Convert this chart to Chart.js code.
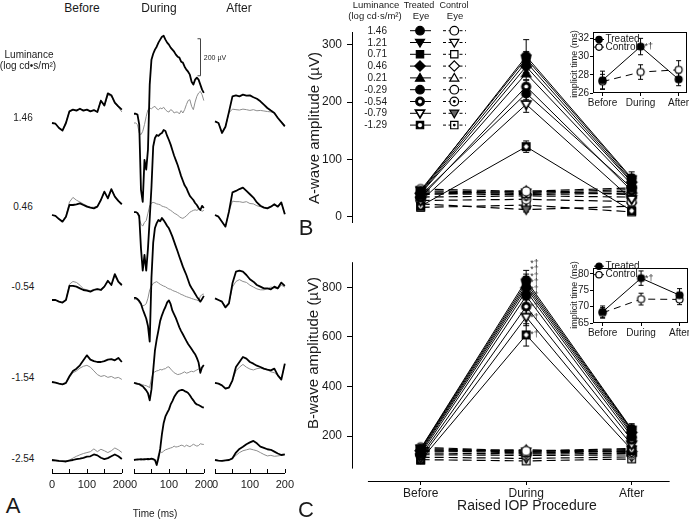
<!DOCTYPE html>
<html>
<head>
<meta charset="utf-8">
<title>ERG amplitude during raised IOP</title>
<script src="https://cdn.jsdelivr.net/npm/chart.js@4.4.1/dist/chart.umd.min.js"></script>
<style>
  html, body { margin: 0; padding: 0; background: #fff; }
  #fig { position: relative; width: 689px; height: 520px; overflow: hidden;
         font-family: 'Liberation Sans', Arial, sans-serif; color: #1a1a1a; }
  #fig canvas { position: absolute; }
  .t { position: absolute; white-space: nowrap; line-height: 1; transform: translate(-50%, -50%); }
  .r { transform: translate(-100%, -50%); }
  .v { transform: translate(-50%, -50%) rotate(-90deg); }
</style>
</head>
<body>
<div id="fig">
  <canvas id="a-before" width="98" height="475" style="left:38px;top:20px"></canvas>
  <canvas id="a-during" width="98" height="475" style="left:120px;top:20px"></canvas>
  <canvas id="a-after" width="98" height="475" style="left:201px;top:20px"></canvas>
  <canvas id="b-main" width="389" height="215" style="left:300px;top:20px"></canvas>
  <canvas id="c-main" width="389" height="262" style="left:300px;top:250px"></canvas>
  <canvas id="b-key" width="80" height="112" style="left:400px;top:22px"></canvas>
  <canvas id="b-inset" width="134" height="86" style="left:560px;top:25px"></canvas>
  <canvas id="c-inset" width="134" height="83" style="left:560px;top:258px"></canvas>

  <!-- panel A -->
  <div class="t" style="left:82px;top:8px;font-size:12px">Before</div>
  <div class="t" style="left:159px;top:8px;font-size:12px">During</div>
  <div class="t" style="left:239px;top:8px;font-size:12px">After</div>
  <div class="t" style="left:29px;top:55px;font-size:10px">Luminance</div>
  <div class="t" style="left:28px;top:66px;font-size:10px">(log cd•s/m²)</div>
  <div class="t" style="left:215px;top:57px;font-size:7px">200 µV</div>
  <div class="t" style="left:155px;top:514px;font-size:10px">Time (ms)</div>
  <div class="t" style="left:13px;top:506px;font-size:22px">A</div>

  <!-- panel B -->
  <div class="t" style="left:376px;top:5px;font-size:9.5px">Luminance</div>
  <div class="t" style="left:375px;top:16px;font-size:9.5px">(log cd·s/m²)</div>
  <div class="t" style="left:419px;top:5px;font-size:9px">Treated</div>
  <div class="t" style="left:421px;top:16px;font-size:9.5px">Eye</div>
  <div class="t" style="left:454px;top:5px;font-size:9px">Control</div>
  <div class="t" style="left:455px;top:16px;font-size:9.5px">Eye</div>
  <div class="t v" style="left:313px;top:128px;font-size:15px">A-wave amplitude (µV)</div>
  <div class="t v" style="left:574px;top:64px;font-size:9px">implicit time (ms)</div>
  <div class="t" style="left:306px;top:228px;font-size:22px">B</div>

  <!-- panel C -->
  <div class="t v" style="left:312px;top:353px;font-size:15px">B-wave amplitude (µV)</div>
  <div class="t v" style="left:574px;top:295px;font-size:9px">implicit time (ms)</div>
  <div class="t" style="left:527px;top:505px;font-size:14px">Raised IOP Procedure</div>
  <div class="t" style="left:306px;top:510px;font-size:22px">C</div>
</div>

<script>
/* ---------- Panel A: ERG traces, µV relative to each row's pre-flash level ---------- */
const T_COARSE = [0, 10, 20, 30, 40, 50, 60, 70, 80, 90, 100, 110, 120, 130, 140, 150, 160, 170, 180, 190, 200];
const T_FINE = [0, 5, 10, 15, 20, 25, 30, 35, 40, 45, 50, 55, 60, 65, 70, 75, 80, 85, 90, 95, 100,
                105, 110, 115, 120, 125, 130, 135, 140, 145, 150, 155, 160, 165, 170, 175, 180, 185, 190, 195, 200];
const A_ROWS = ['1.46', '0.46', '-0.54', '-1.54', '-2.54'];
const A_TIME_TICKS = [0, 50, 100, 150, 200];

const BEFORE_TREATED = [
  [0, -4, -27, -41, 0, 63, 72, 67, 77, 67, 72, 63, 70, 59, 120, 95, 160, 150, 110, 90, 72],
  [0, -5, -22, -36, -9, 54, 54, 58, 63, 54, 45, 40, 36, 45, 81, 126, 90, 140, 99, 76, 58],
  [0, 0, -9, -14, 0, 76, 76, 72, 63, 54, 50, 45, 54, 59, 54, 72, 104, 81, 140, 99, 81],
  [0, -4, -9, -13, -5, 31, 59, 72, 90, 117, 144, 121, 113, 108, 108, 113, 121, 124, 117, 130, 108],
  [0, -2, -5, -6, -8, -3, 0, 5, 8, 12, 18, 20, 30, 25, 12, 5, 10, 20, 30, 20, 5]
];
const BEFORE_CONTROL = [
  [0, -4, -25, -38, 5, 65, 72, 70, 75, 70, 72, 65, 68, 62, 125, 90, 150, 145, 105, 85, 60],
  [0, -5, -20, -32, -5, 70, 95, 80, 70, 60, 50, 42, 42, 48, 80, 120, 95, 135, 100, 75, 60],
  [0, 0, -9, -14, 0, 85, 100, 95, 80, 60, 55, 50, 58, 60, 58, 75, 100, 80, 130, 95, 75],
  [0, -4, -9, -13, -8, 25, 50, 60, 75, 85, 90, 80, 60, 40, 30, 35, 25, 30, 20, 25, 14],
  [-5, -5, -7, -9, -5, 0, 10, 20, 28, 35, 40, 45, 60, 45, 58, 50, 40, 50, 65, 55, 41]
];
const DURING_TREATED = [
  [50, 50, 45, -9, -361, -426, -199, -252, -144, 207, 342, 374, 396, 412, 434, 450, 466, 471, 450, 434, 423,
   407, 396, 385, 369, 358, 353, 331, 326, 304, 288, 277, 261, 223, 207, 234, 245, 234, 207, 180, 163],
  [16, 16, 11, -5, -180, -300, -215, -300, -180, -20, 150, 370, 416, 432, 427, 437, 443, 459, 454, 427, 405,
   380, 350, 320, 295, 270, 240, 210, 185, 160, 146, 124, 103, 92, 81, 65, 54, 38, 27, 49, 38],
  [11, 11, 5, -5, -20, -50, -75, -100, -140, -225, 120, 310, 389, 415, 432, 425, 443, 430, 416, 400, 387,
   365, 342, 315, 288, 262, 234, 207, 180, 157, 135, 108, 81, 65, 50, 34, 18, 5, -9, 5, 22],
  [-4, -7, -10, -12, -18, -23, -34, -45, -61, -99, -40, 63, 171, 230, 279, 330, 360, 385, 405, 430, 441,
   420, 385, 365, 345, 320, 295, 275, 258, 240, 222, 205, 192, 178, 164, 150, 130, 105, 50, 80, 92],
  [0, 2, 3, 3, 4, 3, 5, 5, 6, 5, 7, 5, 0, -27, 10, 60, 140, 200, 235, 255, 272,
   300, 318, 340, 355, 368, 375, 378, 378, 372, 368, 362, 350, 335, 322, 308, 300, 297, 292, 286, 283]
];
const DURING_CONTROL = [
  [0, 0, -9, -54, -63, -45, -9, 36, 72, 81, 77, 85, 90, 77, 72, 81, 77, 85, 72, 63, 59,
   72, 67, 54, 59, 59, 49, 67, 54, 72, 99, 121, 126, 90, 72, 113, 144, 162, 171, 153, 121],
  [14, 14, 10, -20, -50, -60, -40, -30, 10, 50, 65, 68, 65, 60, 58, 55, 48, 45, 42, 38, 30,
   25, 18, 10, 5, 0, -10, -15, -18, -12, -5, 5, 15, 20, 25, 28, 25, 30, 28, 20, 25],
  [4, 4, 0, -14, -25, -32, -28, -20, 10, 55, 75, 90, 95, 99, 92, 85, 80, 75, 72, 65, 60,
   58, 52, 48, 45, 40, 36, 30, 27, 22, 18, 15, 12, 8, 5, 2, 0, -5, 20, 30, 32],
  [-5, -5, -7, -9, -12, -15, -18, -20, -25, -30, 20, 50, 55, 60, 62, 68, 65, 70, 72, 80, 82,
   70, 60, 50, 45, 40, 42, 45, 50, 55, 48, 50, 55, 58, 55, 60, 65, 70, 75, 80, 82],
  [0, 2, -2, 3, 0, 2, -2, 3, 0, 2, 4, 0, -3, -10, 30, 45, 40, 48, 55, 58, 62,
   65, 68, 75, 70, 72, 75, 80, 78, 72, 80, 76, 72, 78, 85, 80, 75, 78, 88, 85, 84]
];
const AFTER_TREATED = [
  [9, 0, -54, -20, 60, 144, 149, 144, 153, 148, 149, 139, 131, 117, 99, 81, 67, 54, 27, 5, -18],
  [0, -9, -36, -63, 18, 122, 130, 140, 148, 130, 112, 94, 68, 50, 40, 36, 45, 58, 45, 68, 4],
  [9, 0, -9, -40, -18, 90, 153, 158, 153, 135, 112, 99, 81, 72, 63, 63, 58, 72, 63, 94, 76],
  [-5, -9, -18, -36, -31, 9, 81, 108, 135, 126, 108, 99, 88, 81, 72, 67, 63, 72, 36, 13, 99],
  [0, -3, -5, -2, 0, 9, 40, 60, 72, 85, 95, 103, 90, 72, 65, 58, 55, 45, 35, 27, 30]
];
const AFTER_CONTROL = [
  [9, 0, -50, -18, 55, 75, 72, 70, 75, 72, 68, 72, 66, 68, 65, 62, 60, 55, 30, 8, -10],
  [0, -9, -36, -60, 20, 75, 72, 72, 68, 72, 62, 60, 50, 45, 42, 40, 45, 55, 45, 65, 5],
  [9, 0, -9, -35, -15, 70, 100, 110, 100, 95, 80, 70, 60, 55, 55, 60, 70, 65, 60, 80, 70],
  [-5, -9, -18, -32, -28, 10, 60, 80, 95, 80, 70, 65, 72, 75, 70, 65, 55, 50, 35, 20, 95],
  [0, -3, -5, -3, 0, 8, 25, 40, 50, 55, 60, 55, 50, 40, 30, 22, 25, 20, 22, 25, 28]
];

/* ---------- Panels B / C: amplitudes per luminance, [Before, During, After] ---------- */
const PHASES = ['Before', 'During', 'After'];
const LUMINANCE = ['1.46', '1.21', '0.71', '0.46', '0.21', '-0.29', '-0.54', '-0.79', '-1.29'];

const A_WAVE_TREATED = [[44, 280, 67], [46, 276, 65], [43, 270, 62], [41, 262, 60], [40, 250, 56],
                        [37, 215, 50], [33, 227, 45], [27, 196, 30], [18, 122, 10]];
const A_WAVE_TREATED_SE = [[4, 29, 11], [4, 12, 8], [3, 11, 8], [3, 11, 7], [3, 11, 7],
                           [3, 11, 6], [3, 11, 6], [3, 14, 5], [3, 10, 4]];
const A_WAVE_CONTROL = [[48, 44, 50], [45, 42, 47], [43, 40, 44], [40, 38, 41], [38, 45, 38],
                        [34, 36, 34], [28, 30, 26], [22, 12, 18], [16, 20, 8]];
const A_WAVE_CONTROL_SE = [[3, 4, 4], [3, 4, 4], [3, 4, 3], [3, 4, 3], [3, 5, 3],
                           [3, 4, 3], [3, 4, 3], [3, 4, 3], [3, 4, 3]];

const B_WAVE_TREATED = [[150, 828, 228], [148, 818, 225], [145, 808, 222], [140, 798, 215], [135, 785, 208],
                        [128, 765, 198], [120, 722, 185], [112, 680, 165], [103, 608, 145]];
const B_WAVE_TREATED_SE = [[8, 40, 22], [8, 35, 20], [8, 35, 20], [8, 35, 18], [8, 35, 18],
                           [8, 35, 18], [8, 35, 16], [8, 35, 15], [8, 45, 12]];
const B_WAVE_CONTROL = [[155, 140, 150], [150, 138, 146], [146, 135, 142], [142, 132, 138], [138, 145, 134],
                        [132, 128, 130], [125, 122, 124], [115, 110, 116], [105, 100, 108]];
const B_WAVE_CONTROL_SE = [[8, 8, 8], [8, 8, 8], [8, 8, 8], [8, 8, 8], [8, 8, 8],
                           [8, 8, 8], [8, 8, 8], [8, 8, 8], [8, 8, 8]];

/* ---------- Insets: implicit time (ms) ---------- */
const INSET_SERIES = ['Treated', 'Control'];
const IT_A_TREATED = [27.4, 31.1, 27.5];
const IT_A_TREATED_SE = [1.0, 0.9, 0.7];
const IT_A_CONTROL = [27.25, 28.3, 28.55];
const IT_A_CONTROL_SE = [0.8, 0.8, 1.0];
const IT_B_TREATED = [68.4, 78.7, 73.5];
const IT_B_TREATED_SE = [1.8, 2.2, 2.0];
const IT_B_CONTROL = [68.1, 72.3, 72.2];
const IT_B_CONTROL_SE = [1.6, 1.8, 1.6];

/* ---------- marker styles ---------- */
const TREATED_MARKS = [
  { shape: 'circle', fill: '#000' }, { shape: 'down', fill: '#000' }, { shape: 'square', fill: '#000' },
  { shape: 'diamond', fill: '#000' }, { shape: 'up', fill: '#000' }, { shape: 'circle', fill: '#000' },
  { shape: 'circle', fill: '#000', inner: 'hole' }, { shape: 'down', fill: '#fff', lw: 1.7 },
  { shape: 'square', fill: '#000', inner: 'star' }
];
const CONTROL_MARKS = [
  { shape: 'circle', fill: '#fff' }, { shape: 'down', fill: '#fff' }, { shape: 'square', fill: '#fff' },
  { shape: 'diamond', fill: '#fff' }, { shape: 'up', fill: '#fff' }, { shape: 'circle', fill: '#fff' },
  { shape: 'circle', fill: '#fff', inner: 'dot' }, { shape: 'down', fill: '#666' },
  { shape: 'square', fill: '#fff', inner: 'dot' }
];
const INSET_MARKS = [{ shape: 'circle', fill: '#000' }, { shape: 'circle', fill: '#fff' }];

function drawMarker(g, m, x, y, r) {
  g.save();
  g.setLineDash([]);
  g.lineWidth = m.lw || 1.2;
  g.strokeStyle = '#000';
  g.fillStyle = m.fill;
  g.beginPath();
  if (m.shape === 'circle') g.arc(x, y, r, 0, Math.PI * 2);
  else if (m.shape === 'square') g.rect(x - r * 0.85, y - r * 0.85, r * 1.7, r * 1.7);
  else if (m.shape === 'diamond') {
    g.moveTo(x, y - r * 1.2); g.lineTo(x + r * 1.2, y); g.lineTo(x, y + r * 1.2); g.lineTo(x - r * 1.2, y); g.closePath();
  } else if (m.shape === 'down') {
    g.moveTo(x - r * 1.05, y - r * 0.75); g.lineTo(x + r * 1.05, y - r * 0.75); g.lineTo(x, y + r * 1.05); g.closePath();
  } else if (m.shape === 'up') {
    g.moveTo(x - r * 1.05, y + r * 0.75); g.lineTo(x + r * 1.05, y + r * 0.75); g.lineTo(x, y - r * 1.05); g.closePath();
  }
  g.fill(); g.stroke();
  if (m.inner === 'hole') {
    g.beginPath(); g.fillStyle = '#fff'; g.arc(x, y, r * 0.45, 0, Math.PI * 2); g.fill();
  } else if (m.inner === 'dot') {
    g.beginPath(); g.fillStyle = '#000'; g.arc(x, y, r * 0.32, 0, Math.PI * 2); g.fill();
  } else if (m.inner === 'star') {
    const s = r * 0.5;
    g.strokeStyle = '#fff'; g.lineWidth = 1.2; g.beginPath();
    g.moveTo(x - s, y); g.lineTo(x + s, y); g.moveTo(x, y - s); g.lineTo(x, y + s);
    g.moveTo(x - s * 0.7, y - s * 0.7); g.lineTo(x + s * 0.7, y + s * 0.7);
    g.moveTo(x + s * 0.7, y - s * 0.7); g.lineTo(x - s * 0.7, y + s * 0.7);
    g.stroke();
  }
  g.restore();
}

function markerImage(m, r) {
  const s = Math.ceil(r * 2.6 + 3);
  const c = document.createElement('canvas');
  c.width = c.height = s;
  drawMarker(c.getContext('2d'), m, s / 2, s / 2, r);
  return c;
}

/* ---------- plugins ---------- */
const FONT = "'Liberation Sans', Arial, sans-serif";
Chart.defaults.font.family = FONT;
Chart.defaults.color = '#1a1a1a';

const common = {
  responsive: false, animation: false, devicePixelRatio: 1, events: [],
  plugins: { legend: { display: false }, tooltip: { enabled: false } }
};

// short upward tick marks, as on the trace time axes
const upTicks = {
  id: 'upTicks',
  afterDraw(chart) {
    const { ctx, chartArea: a, scales: { x } } = chart;
    ctx.save(); ctx.strokeStyle = '#000'; ctx.lineWidth = 1; ctx.beginPath();
    x.ticks.forEach(t => {
      const px = Math.round(x.getPixelForValue(t.value)) + 0.5;
      ctx.moveTo(px, a.bottom); ctx.lineTo(px, a.bottom - 4);
    });
    ctx.stroke(); ctx.restore();
  }
};

const A_UV_PER_PX = 5.4;
const A_TOP_Y = 20;
const A_AXIS_Y = 473;
const A_ROW_BASE_Y = [123, 215, 300, 382, 460];
const A_ROW_LABEL_Y = [118, 207, 287, 378, 459];
const rowLift = r => (A_AXIS_Y - A_ROW_BASE_Y[r]) * A_UV_PER_PX;

const scaleBar = {
  id: 'scaleBar',
  afterDraw(chart, args, o) {
    const { ctx, scales: { x, y } } = chart;
    const px = Math.round(x.getPixelForValue(o.at)) + 0.5;
    const y0 = y.getPixelForValue(o.from + rowLift(0));
    const y1 = y.getPixelForValue(o.from + o.size + rowLift(0));
    ctx.save(); ctx.strokeStyle = '#444'; ctx.lineWidth = 1; ctx.beginPath();
    ctx.moveTo(px - 3, y0); ctx.lineTo(px, y0); ctx.lineTo(px, y1); ctx.lineTo(px - 3, y1);
    ctx.stroke(); ctx.restore();
  }
};

const errorBars = {
  id: 'errorBars',
  beforeDatasetsDraw(chart, args, o) {
    const { ctx, scales: { y } } = chart;
    const w = o.cap || 3;
    chart.data.datasets.forEach((ds, di) => {
      if (!ds.errors) return;
      const meta = chart.getDatasetMeta(di);
      ctx.save(); ctx.strokeStyle = '#000'; ctx.lineWidth = 1; ctx.setLineDash([]);
      meta.data.forEach((pt, i) => {
        const e = ds.errors[i];
        if (!e) return;
        const v = ds.data[i].y;
        const top = y.getPixelForValue(v + e), bot = y.getPixelForValue(v - e);
        ctx.beginPath();
        ctx.moveTo(pt.x, top); ctx.lineTo(pt.x, bot);
        ctx.moveTo(pt.x - w, top); ctx.lineTo(pt.x + w, top);
        ctx.moveTo(pt.x - w, bot); ctx.lineTo(pt.x + w, bot);
        ctx.stroke();
      });
      ctx.restore();
    });
  }
};

// axis lines that stop short of the plot corner
const axisLines = {
  id: 'axisLines',
  afterDraw(chart, args, o) {
    const { ctx, chartArea: a, scales: { x, y } } = chart;
    ctx.save(); ctx.strokeStyle = '#000'; ctx.lineWidth = 1; ctx.beginPath();
    if (o.y) {
      const px = Math.round(a.left) + 0.5;
      ctx.moveTo(px, y.getPixelForValue(o.y[0])); ctx.lineTo(px, y.getPixelForValue(o.y[1]));
    }
    if (o.x) {
      const py = Math.round(a.bottom) + 0.5;
      ctx.moveTo(x.getPixelForValue(o.x[0]), py); ctx.lineTo(x.getPixelForValue(o.x[1]), py);
    }
    ctx.stroke(); ctx.restore();
  }
};

// significance marks beside the "During" points
const notes = {
  id: 'notes',
  afterDatasetsDraw(chart, args, o) {
    if (!o.text) return;
    const { ctx } = chart;
    const pts = o.sets.map(di => chart.getDatasetMeta(di).data[o.index])
      .map(p => ({ x: p.x, y: p.y })).sort((a, b) => b.y - a.y);
    let prev = Infinity;
    ctx.save(); ctx.fillStyle = '#333'; ctx.font = o.size + 'px ' + FONT;
    ctx.textBaseline = 'middle'; ctx.textAlign = 'left';
    pts.forEach(p => {
      const y = Math.min(p.y, prev - o.gap);
      ctx.fillText(o.text, p.x + o.dx, y);
      prev = y;
    });
    ctx.restore();
  }
};

const frame = {
  id: 'frame',
  beforeDraw(chart) {
    const { ctx, chartArea: a } = chart;
    ctx.save(); ctx.fillStyle = '#fff'; ctx.fillRect(a.left, a.top, a.width, a.height); ctx.restore();
  },
  afterDraw(chart) {
    const { ctx, chartArea: a } = chart;
    ctx.save(); ctx.strokeStyle = '#000'; ctx.lineWidth = 1;
    ctx.strokeRect(Math.round(a.left) + 0.5, Math.round(a.top) + 0.5, Math.round(a.width) - 1, Math.round(a.height) - 1);
    ctx.restore();
  }
};

const insetKey = {
  id: 'insetKey',
  afterDraw(chart, args, o) {
    const { ctx, chartArea: a } = chart;
    INSET_SERIES.forEach((name, i) => {
      const y = a.top + o.y0 + i * o.dy;
      ctx.save();
      ctx.strokeStyle = '#000'; ctx.lineWidth = 1;
      ctx.setLineDash(i ? [2, 2] : []);
      ctx.beginPath(); ctx.moveTo(a.left + 1, y); ctx.lineTo(a.left + 11, y); ctx.stroke();
      drawMarker(ctx, INSET_MARKS[i], a.left + 6, y, 3.2);
      ctx.fillStyle = '#1a1a1a'; ctx.font = '10px ' + FONT; ctx.textBaseline = 'middle';
      ctx.fillText(name, a.left + 12.5, y);
      ctx.restore();
    });
  }
};

/* ---------- Panel A charts ---------- */
function traceChart(id, times, treated, control, bar) {
  const datasets = [];
  treated.forEach((vals, r) => {
    datasets.push({ data: times.map((t, i) => ({ x: t, y: vals[i] + rowLift(r) })),
                    borderColor: '#000', borderWidth: 1.8, clip: false });
    datasets.push({ data: times.map((t, i) => ({ x: t, y: control[r][i] + rowLift(r) })),
                    borderColor: '#8d8d8d', borderWidth: 1, clip: false });
  });
  return new Chart(document.getElementById(id), {
    type: 'line',
    data: { datasets },
    options: {
      ...common,
      layout: { padding: { left: 14, right: 14, top: 0, bottom: 0 } },
      elements: { point: { radius: 0 }, line: { tension: 0, borderJoinStyle: 'round' } },
      scales: {
        x: {
          type: 'linear', min: 0, max: 200,
          afterFit: s => { s.height = 22; },
          afterBuildTicks: s => { s.ticks = A_TIME_TICKS.map(v => ({ value: v })); },
          grid: { display: false, drawTicks: false },
          border: { display: true, color: '#000', width: 1 },
          ticks: { padding: 5, font: { size: 11 }, autoSkip: false, maxRotation: 0,
                   callback: v => (v % 100 === 0 ? String(v) : '') }
        },
        y: { display: false, min: 0, max: (A_AXIS_Y - A_TOP_Y) * A_UV_PER_PX }
      },
      plugins: { ...common.plugins, scaleBar: bar || {} }
    },
    plugins: bar ? [upTicks, scaleBar] : [upTicks]
  });
}

traceChart('a-before', T_COARSE, BEFORE_TREATED, BEFORE_CONTROL);
traceChart('a-during', T_FINE, DURING_TREATED, DURING_CONTROL, { at: 188, from: 255, size: 200 });
traceChart('a-after', T_COARSE, AFTER_TREATED, AFTER_CONTROL);

/* ---------- Panels B / C charts ---------- */
const AMP_X_MIN = -0.651, AMP_X_MAX = 2.458;

function ampChart(id, treated, treatedSe, control, controlSe, cfg) {
  const datasets = [];
  treated.forEach((vals, i) => datasets.push({
    data: vals.map((v, k) => ({ x: k, y: v })), errors: treatedSe[i],
    borderColor: '#000', borderWidth: 1, pointStyle: markerImage(TREATED_MARKS[i], 4.5), pointRadius: 5, clip: false
  }));
  control.forEach((vals, i) => datasets.push({
    data: vals.map((v, k) => ({ x: k, y: v })), errors: controlSe[i],
    borderColor: '#000', borderWidth: 1.2, borderDash: [9, 5],
    pointStyle: markerImage(CONTROL_MARKS[i], 4.5), pointRadius: 5, clip: false
  }));
  const x = cfg.showX ? {
    type: 'linear', min: AMP_X_MIN, max: AMP_X_MAX,
    afterFit: s => { s.height = 31; },
    afterBuildTicks: s => { s.ticks = PHASES.map((p, k) => ({ value: k })); },
    grid: { drawOnChartArea: false, tickLength: 4, color: '#000' },
    border: { display: false },
    ticks: { padding: 1, font: { size: 12 }, autoSkip: false, maxRotation: 0, callback: v => PHASES[v] }
  } : { type: 'linear', display: false, min: AMP_X_MIN, max: AMP_X_MAX };
  return new Chart(document.getElementById(id), {
    type: 'line',
    data: { datasets },
    options: {
      ...common,
      layout: { padding: { left: 0, right: 9, top: cfg.padTop, bottom: 0 } },
      elements: { line: { tension: 0 } },
      scales: {
        x,
        y: {
          min: cfg.yMin, max: cfg.yMax,
          afterFit: s => { s.width = 52; },
          afterBuildTicks: s => { s.ticks = cfg.yTicks.map(v => ({ value: v })); },
          grid: { drawOnChartArea: false, tickLength: 5, color: '#000' },
          border: { display: !cfg.axisLines, color: '#000', width: 1 },
          ticks: { padding: 5, font: { size: 12 } }
        }
      },
      plugins: { ...common.plugins, errorBars: { cap: 3 }, axisLines: cfg.axisLines || {}, notes: cfg.notes || {} }
    },
    plugins: [errorBars, axisLines, notes]
  });
}

ampChart('b-main', A_WAVE_TREATED, A_WAVE_TREATED_SE, A_WAVE_CONTROL, A_WAVE_CONTROL_SE, {
  yMin: -11, yMax: 322, yTicks: [0, 100, 200, 300], padTop: 12, showX: false
});
ampChart('c-main', B_WAVE_TREATED, B_WAVE_TREATED_SE, B_WAVE_CONTROL, B_WAVE_CONTROL_SE, {
  yMin: 19, yMax: 901, yTicks: [200, 400, 600, 800], padTop: 7, showX: true,
  axisLines: { y: [69, 901], x: [-0.5, 2.36] },
  notes: { text: '*†', sets: B_WAVE_TREATED.map((v, i) => i), index: 1, dx: 4, gap: 6.5, size: 9 }
});

/* ---------- insets ---------- */
function insetChart(id, tVals, tSe, cVals, cSe, cfg) {
  const datasets = [
    { data: tVals.map((v, k) => ({ x: k, y: v })), errors: tSe, borderColor: '#000', borderWidth: 1,
      pointStyle: markerImage(INSET_MARKS[0], 3.5), pointRadius: 4, clip: false },
    { data: cVals.map((v, k) => ({ x: k, y: v })), errors: cSe, borderColor: '#000', borderWidth: 1,
      borderDash: [7, 5], pointStyle: markerImage(INSET_MARKS[1], 3.5), pointRadius: 4, clip: false }
  ];
  return new Chart(document.getElementById(id), {
    type: 'line',
    data: { datasets },
    options: {
      ...common,
      layout: { padding: { left: 0, right: cfg.padRight, top: cfg.padTop, bottom: 0 } },
      elements: { line: { tension: 0 } },
      scales: {
        x: {
          type: 'linear', min: -0.25, max: 2.22,
          afterFit: s => { s.height = 18; },
          afterBuildTicks: s => { s.ticks = PHASES.map((p, k) => ({ value: k })); },
          grid: { drawOnChartArea: false, tickLength: 3, color: '#000' },
          border: { display: false },
          ticks: { padding: 1, font: { size: 10 }, autoSkip: false, maxRotation: 0, callback: v => PHASES[v] }
        },
        y: {
          min: cfg.yMin, max: cfg.yMax,
          afterFit: s => { s.width = 33; },
          afterBuildTicks: s => { s.ticks = cfg.yTicks.map(v => ({ value: v })); },
          grid: { drawOnChartArea: false, tickLength: 3, color: '#000' },
          border: { display: false },
          ticks: { padding: 1, font: { size: 10 } }
        }
      },
      plugins: {
        ...common.plugins,
        errorBars: { cap: 2.5 },
        insetKey: { y0: cfg.keyY0, dy: cfg.keyDy },
        notes: { text: '*†', sets: [0], index: 1, dx: 4, gap: 0, size: 9 }
      }
    },
    plugins: [frame, errorBars, insetKey, notes]
  });
}

insetChart('b-inset', IT_A_TREATED, IT_A_TREATED_SE, IT_A_CONTROL, IT_A_CONTROL_SE, {
  yMin: 26, yMax: 32.7, yTicks: [26, 28, 30, 32], padTop: 3, padRight: 7, keyY0: 7.5, keyDy: 7.6
});
insetChart('c-inset', IT_B_TREATED, IT_B_TREATED_SE, IT_B_CONTROL, IT_B_CONTROL_SE, {
  yMin: 65, yMax: 81.8, yTicks: [65, 70, 75, 80], padTop: 10, padRight: 6, keyY0: -1.8, keyDy: 8.5
});

/* ---------- key for panel B and data-driven labels ---------- */
const fig = document.getElementById('fig');
function addText(txt, x, y, size, cls) {
  const d = document.createElement('div');
  d.className = 't' + (cls ? ' ' + cls : '');
  d.style.left = x + 'px'; d.style.top = y + 'px'; d.style.fontSize = size + 'px';
  d.textContent = txt;
  fig.appendChild(d);
}

const key = document.getElementById('b-key').getContext('2d');
LUMINANCE.forEach((lum, i) => {
  const y = 8.7 + i * 11.8;
  key.strokeStyle = '#000'; key.lineWidth = 1;
  key.setLineDash([]);
  key.beginPath(); key.moveTo(10, y); key.lineTo(31, y); key.stroke();
  key.setLineDash([3, 2.5]);
  key.beginPath(); key.moveTo(43, y); key.lineTo(66, y); key.stroke();
  drawMarker(key, TREATED_MARKS[i], 20, y, 4.3);
  drawMarker(key, CONTROL_MARKS[i], 54.3, y, 4.3);
  addText(lum, 387, 30.7 + i * 11.8, 10, 'r');
});

A_ROWS.forEach((lum, i) => addText(lum, 23, A_ROW_LABEL_Y[i], 10));
</script>
</body>
</html>
